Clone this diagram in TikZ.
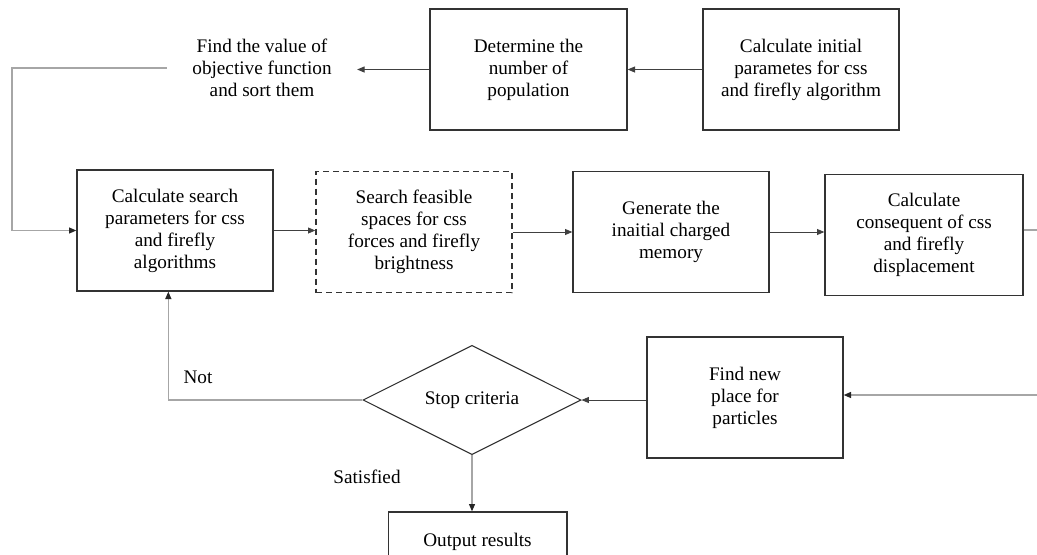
\documentclass[tikz,border=0pt]{standalone}
\usepackage{fontspec}
\setmainfont{Liberation Serif}
\usetikzlibrary{shapes,arrows.meta,positioning,calc}

\begin{document}
\begin{tikzpicture}[x=0.75pt,y=-0.75pt,
    box/.style={draw=black!80, line width=1pt, minimum width=147pt, minimum height=90.75pt, align=center, font=\fontsize{14.4}{16.5}\selectfont, inner sep=2pt},
    txt/.style={align=center, font=\fontsize{14.4}{16.5}\selectfont},
    arr/.style={-{Triangle[length=5.5pt,width=4.5pt]}, black!75, line width=0.6pt},
    gline/.style={gray!70, line width=0.9pt},
    tip/.style={-{Triangle[length=5.5pt,width=4.5pt,color=black!85]}}]
    \clip (0,0) rectangle (1037,554);
    % top row
    \node[box] (ci) at (801,69.5) {Calculate initial\\parametes for css\\and firefly algorithm};
    \node[box, minimum width=147.75pt] (dn) at (528.5,69.5) {Determine the\\number of\\population};
    \node[txt, inner xsep=19pt] (fv) at (262,68) {Find the value of\\objective function\\and sort them};
    % middle row
    \node[box] (cs) at (175,230.5) {Calculate search\\parameters for css\\and firefly\\algorithms};
    \node[box, dashed, dash pattern=on 4.5pt off 3pt] (sf) at (414,232) {Search feasible\\spaces for css\\forces and firefly\\brightness};
    \node[box] (gm) at (671,232) {Generate the\\inaitial charged\\memory};
    \node[box, minimum width=148.5pt] (cc) at (924,235) {Calculate\\consequent of css\\and firefly\\displacement};
    % bottom row
    \node[box] (fp) at (745,397.5) {Find new\\place for\\particles};
    \node[diamond, aspect=2, draw=black!80, line width=0.8pt, minimum width=163.5pt, minimum height=82pt, inner sep=0pt, font=\fontsize{14.4}{16.5}\selectfont] (sc) at (472,400) {Stop criteria};
    \node[box, minimum width=134pt, minimum height=45pt] (out) at (477.5,542) {Output results};
    \node[txt] (no) at (198,377) {Not};
    \node[txt] (ok) at (367,477) {Satisfied};
    \coordinate (lft) at (12,230.5);
    \coordinate (r1) at (1037,230);
    \coordinate (r2) at (1037,395);
    % connectors
    \draw[arr] (ci.west) -- (dn.east);
    \draw[arr] (dn.west) -- (dn.west -| fv.east);
    \draw[gline, tip] (fv.west) -| (lft) -- (cs.west);
    \draw[arr] (cs.east) -- (cs.east -| sf.west);
    \draw[arr] (sf.east) -- (gm.west);
    \draw[arr] (gm.east) -- (gm.east -| cc.west);
    \draw[gline] (cc.east |- r1) -- (r1);
    \draw[gline, tip] (r2) -- (r2 -| fp.east);
    \draw[arr] (sc.east -| fp.west) -- (sc.east);
    \draw[gline, tip] (sc.west) -| ([xshift=-5pt]cs.south);
    \draw[gline, tip] (sc.south) -- (sc.south |- out.north);
\end{tikzpicture}
\end{document}
